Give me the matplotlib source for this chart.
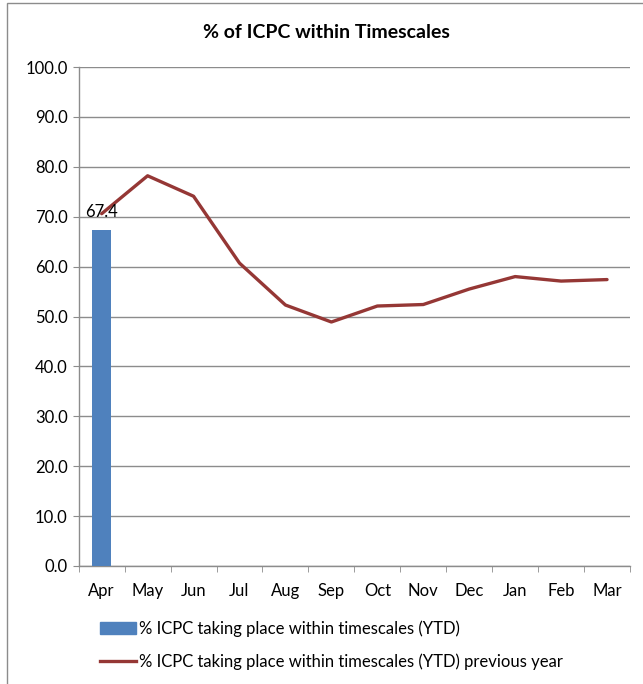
import matplotlib
matplotlib.use("Agg")
import matplotlib.pyplot as plt
from matplotlib.patches import Rectangle
from matplotlib.lines import Line2D
import numpy as np

months = ["Apr", "May", "Jun", "Jul", "Aug", "Sep", "Oct", "Nov", "Dec", "Jan", "Feb", "Mar"]
ytd_current = [67.4]
ytd_previous = [70.6, 78.2, 74.1, 60.7, 52.3, 48.9, 52.1, 52.4, 55.5, 58.0, 57.1, 57.4]
y_ticks = [0, 10, 20, 30, 40, 50, 60, 70, 80, 90, 100]

bar_label = "% ICPC taking place within timescales (YTD)"
line_label = "% ICPC taking place within timescales (YTD) previous year"
title = "% of ICPC within Timescales"

plt.rcParams["font.family"] = ["Lato", "DejaVu Sans"]

W, H = 643, 684
fig = plt.figure(figsize=(W / 100, H / 100), dpi=100)

# outer chart border (left and top edges visible)
fig.patches.append(Rectangle((7 / W, -0.1), 1.2, 1.1 - 3.5 / H, transform=fig.transFigure,
                             fill=False, edgecolor="#8c8c8c", linewidth=1.0))

L, R, T, B = 78.7, 630, 67, 566
ax = fig.add_axes([L / W, 1 - B / H, (R - L) / W, (B - T) / H])

x = np.arange(len(months))
ax.bar(x[:len(ytd_current)], ytd_current, width=0.41, color="#4F81BD", zorder=3,
       label=bar_label)
ax.plot(x, ytd_previous, color="#953735", linewidth=2.4, zorder=4, label=line_label,
        solid_joinstyle="round", solid_capstyle="round")

for xi, v in zip(x, ytd_current):
    ax.text(xi, v + 1.9, f"{v:.1f}", ha="center", va="bottom", fontsize=12, zorder=5)

ax.set_xlim(-0.5, len(months) - 0.5)
ax.set_ylim(0, 100)
ax.set_yticks(y_ticks)
ax.set_yticklabels([f"{t:.1f}" for t in y_ticks], fontsize=12)
ax.yaxis.grid(True, color="#8c8c8c", linewidth=1.0, zorder=0)
ax.set_axisbelow(True)

ax.set_xticks(x)
ax.set_xticklabels(months, fontsize=12)
ax.set_xticks(np.arange(-0.5, len(months)), minor=True)
ax.tick_params(axis="x", which="major", length=0, pad=12)
ax.tick_params(axis="x", which="minor", length=4.5, color="#8c8c8c", direction="out")
ax.tick_params(axis="y", length=4.5, color="#8c8c8c", direction="out", pad=3.5)

for side in ["top", "right"]:
    ax.spines[side].set_visible(False)
for side in ["left", "bottom"]:
    ax.spines[side].set_color("#8c8c8c")
    ax.spines[side].set_linewidth(1.0)

fig.text(326 / W, 1 - 32 / H, title, ha="center", va="center",
         fontsize=14, fontweight="bold")

handles = [Rectangle((0, 0), 1, 1, color="#4F81BD"),
           Line2D([0], [0], color="#953735", linewidth=2.4)]
fig.legend(handles, [bar_label, line_label], loc="upper left",
           bbox_to_anchor=(92 / W, 1 - 612 / H), frameon=False, fontsize=12,
           handlelength=2.15, handletextpad=0.15, labelspacing=1.0, borderpad=0)

fig.savefig("out.png", dpi=100, facecolor="white")
